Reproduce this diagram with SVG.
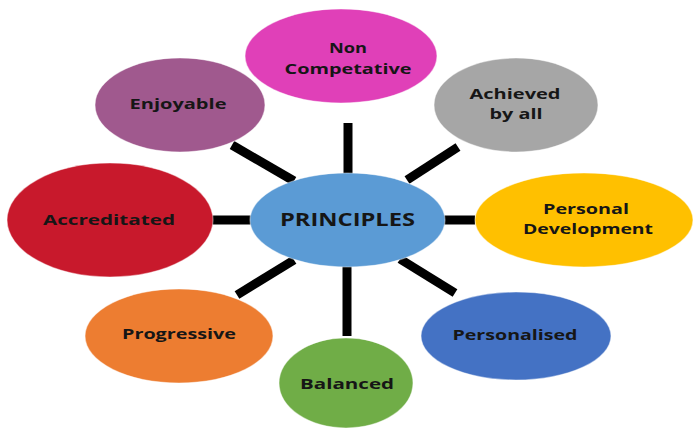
<svg xmlns="http://www.w3.org/2000/svg" width="693" height="432" viewBox="0 0 693 432">
  <style>
    .bubble { stroke: #ffffff; stroke-opacity: 0.45; stroke-width: 1.2; }
    .label { font-family: "Open Sans", "DejaVu Sans", sans-serif; font-weight: bold; font-size: 15px; fill: #161616; text-anchor: middle; }
    .pair { font-size: 14px; }
    .title { font-size: 18px; }
    .spoke { stroke: #000000; stroke-width: 9; stroke-linecap: butt; }
  </style>
  <rect width="693" height="432" fill="#ffffff"/>

  <!-- spokes from the central idea to each principle -->
  <g id="connectors">
    <line class="spoke" x1="348" y1="123" x2="348" y2="174"/>
    <line class="spoke" x1="232" y1="145" x2="294" y2="181"/>
    <line class="spoke" x1="407" y1="180" x2="458" y2="147"/>
    <line class="spoke" x1="212" y1="220" x2="252" y2="220"/>
    <line class="spoke" x1="443" y1="220" x2="475" y2="220"/>
    <line class="spoke" x1="237" y1="295" x2="294" y2="260"/>
    <line class="spoke" x1="400" y1="259" x2="455" y2="293"/>
    <line class="spoke" x1="347" y1="264" x2="347" y2="336"/>
  </g>

  <g id="principles">
    <ellipse class="bubble" cx="347.5" cy="220" rx="97.5" ry="47" fill="#5B9BD5"/>
    <text class="label title" x="347.5" y="226" textLength="135" lengthAdjust="spacingAndGlyphs">PRINCIPLES</text>
  </g>

  <g id="non-competative">
    <ellipse class="bubble" cx="341" cy="56" rx="96" ry="47" fill="#E040B8"/>
    <text class="label pair" x="348" y="53" textLength="38" lengthAdjust="spacingAndGlyphs">Non</text>
    <text class="label pair" x="348" y="74" textLength="127" lengthAdjust="spacingAndGlyphs">Competative</text>
  </g>

  <g id="enjoyable">
    <ellipse class="bubble" cx="180" cy="105" rx="85" ry="47" fill="#A0598E"/>
    <text class="label" x="178" y="109" textLength="97" lengthAdjust="spacingAndGlyphs">Enjoyable</text>
  </g>

  <g id="achieved-by-all">
    <ellipse class="bubble" cx="516" cy="105" rx="82" ry="47" fill="#A6A6A6"/>
    <text class="label pair" x="515" y="99" textLength="91" lengthAdjust="spacingAndGlyphs">Achieved</text>
    <text class="label pair" x="516" y="119" textLength="53" lengthAdjust="spacingAndGlyphs">by all</text>
  </g>

  <g id="accreditated">
    <ellipse class="bubble" cx="110" cy="220" rx="103" ry="57" fill="#C8192C"/>
    <text class="label" x="109" y="225" textLength="132" lengthAdjust="spacingAndGlyphs">Accreditated</text>
  </g>

  <g id="personal-development">
    <ellipse class="bubble" cx="584" cy="220" rx="109" ry="47" fill="#FFC000"/>
    <text class="label pair" x="586" y="214" textLength="86" lengthAdjust="spacingAndGlyphs">Personal</text>
    <text class="label pair" x="588" y="234" textLength="130" lengthAdjust="spacingAndGlyphs">Development</text>
  </g>

  <g id="progressive">
    <ellipse class="bubble" cx="179" cy="336" rx="94" ry="47" fill="#ED7D31"/>
    <text class="label" x="179" y="339" textLength="114" lengthAdjust="spacingAndGlyphs">Progressive</text>
  </g>

  <g id="balanced">
    <ellipse class="bubble" cx="346" cy="383" rx="67" ry="45" fill="#70AD47"/>
    <text class="label" x="347" y="389" textLength="94" lengthAdjust="spacingAndGlyphs">Balanced</text>
  </g>

  <g id="personalised">
    <ellipse class="bubble" cx="516" cy="336" rx="95" ry="44" fill="#4472C4"/>
    <text class="label" x="515" y="340" textLength="125" lengthAdjust="spacingAndGlyphs">Personalised</text>
  </g>
</svg>
